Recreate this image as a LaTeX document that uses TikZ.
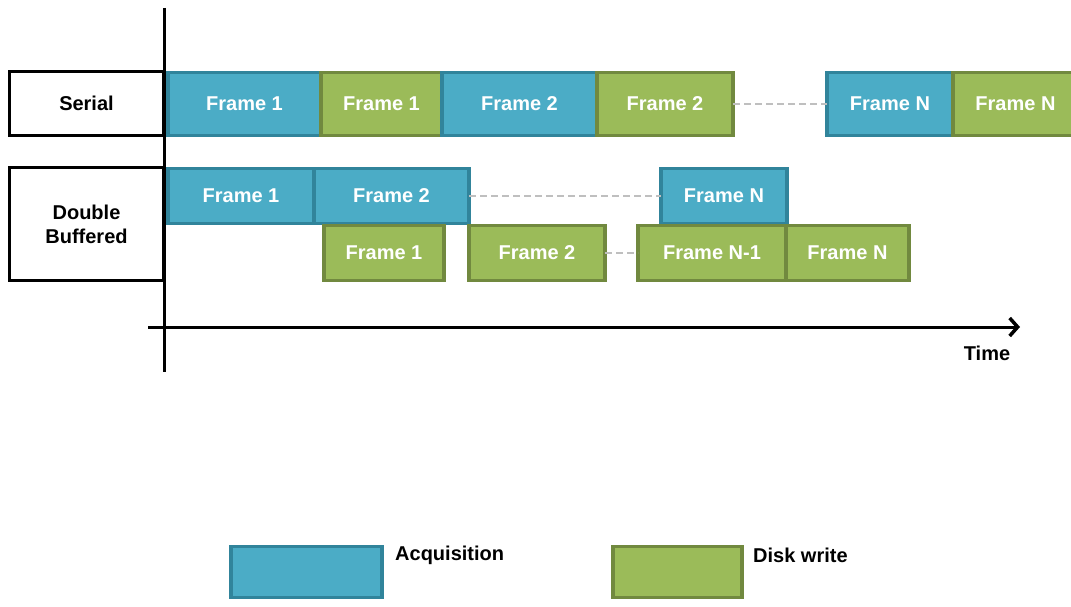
\documentclass[tikz,border=0pt]{standalone}
\usepackage{fontspec}
\setmainfont{Liberation Sans}
\usepackage{xcolor}
\usetikzlibrary{positioning,arrows.meta}
\definecolor{acqfill}{HTML}{4BACC6}
\definecolor{acqline}{HTML}{31849B}
\definecolor{dskfill}{HTML}{9BBB59}
\definecolor{dskline}{HTML}{71893F}
\definecolor{gapgray}{HTML}{BFBFBF}
\begin{document}
\begin{tikzpicture}[
  x=1pt, y=-1pt,
  font=\bfseries\fontsize{20}{24}\selectfont,
  frame/.style={draw, line width=3.5pt, text=white, inner sep=0pt, outer sep=0pt, anchor=west},
  acq/.style={frame, fill=acqfill, draw=acqline},
  dsk/.style={frame, fill=dskfill, draw=dskline},
  serialrow/.style={minimum height=63pt},
  bufrow/.style={minimum height=55pt},
  lbl/.style={draw, line width=2.5pt, align=center, inner sep=0pt, outer sep=0pt},
  txt/.style={inner sep=0pt, text=black},
  gap/.style={draw=gapgray, line width=2.5pt, dash pattern=on 7pt off 4pt},
  axis/.style={line width=3pt}
]
\useasboundingbox (0,0) rectangle (1071,607);
% row labels
\node[lbl, minimum width=154pt, minimum height=64pt] (lserial) at (86.5,103.5) {Serial};
\node[lbl, minimum width=154pt, minimum height=113pt] (lbuf) at (86.5,224) {Double\\Buffered};
% serial: acquire, then write
\node[acq, serialrow, minimum width=153pt] (s1) at (168,104) {Frame 1};
\node[dsk, serialrow, minimum width=121pt, right=0pt of s1] (s2) {Frame 1};
\node[acq, serialrow, minimum width=155pt, right=0pt of s2] (s3) {Frame 2};
\node[dsk, serialrow, minimum width=136pt, right=0pt of s3] (s4) {Frame 2};
\node[acq, serialrow, minimum width=126pt, right=94pt of s4] (s5) {Frame N};
\node[dsk, serialrow, minimum width=125pt, right=0pt of s5] (s6) {Frame N};
\draw[gap] (s4) -- (s5);
% double buffered: acquisition row
\node[acq, bufrow, minimum width=146pt] (a1) at (168,196) {Frame 1};
\node[acq, bufrow, minimum width=155pt, right=0pt of a1] (a2) {Frame 2};
\node[acq, bufrow, minimum width=126pt, right=192pt of a2] (aN) {Frame N};
\draw[gap] (a2) -- (aN);
% double buffered: disk write row
\node[dsk, bufrow, minimum width=120pt] (w1) at (324,253) {Frame 1};
\node[dsk, bufrow, minimum width=136pt, right=25pt of w1] (w2) {Frame 2};
\node[dsk, bufrow, minimum width=148pt, right=33pt of w2] (wN1) {Frame N-1};
\node[dsk, bufrow, minimum width=123pt, right=0pt of wN1] (wN) {Frame N};
\draw[gap] (w2) -- (wN1);
% axes
\coordinate (ytop) at (164,8);
\coordinate (ybot) at (164,372);
\coordinate (xleft) at (148,327);
\coordinate (xright) at (1020,327);
\draw[axis] (ytop) -- (ybot);
\draw[axis, -{Straight Barb[length=8pt, width=18pt, line width=3.5pt]}] (xleft) -- (xright);
\node[txt] (time) at (987,353) {Time};
% legend
\node[acq, minimum width=151pt, minimum height=51pt] (kacq) at (231,572) {};
\node[txt, anchor=west] (tacq) at ([xshift=13pt, yshift=-9pt]kacq.north east) {Acquisition};
\node[dsk, minimum width=129pt, minimum height=51pt] (kdsk) at (613,572) {};
\node[txt, anchor=west] (tdsk) at ([xshift=11pt, yshift=-9pt]kdsk.north east) {Disk write};
\end{tikzpicture}
\end{document}
